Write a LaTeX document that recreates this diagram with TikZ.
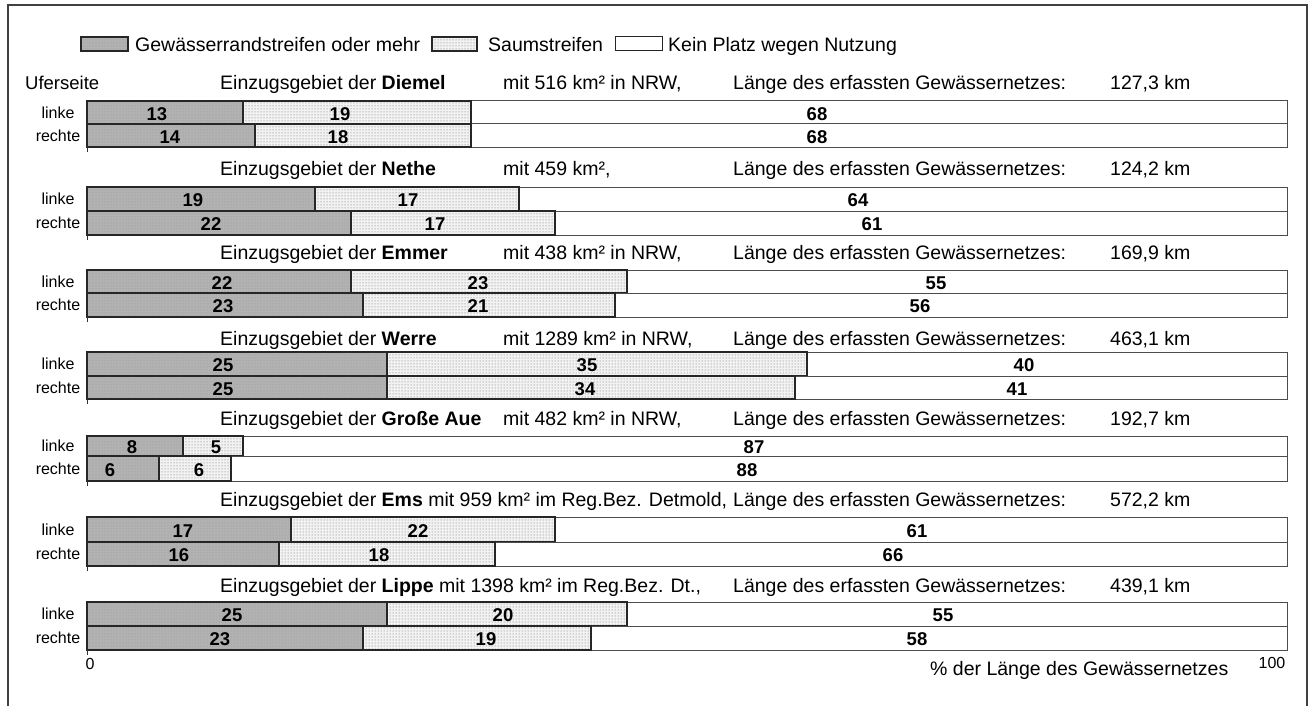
\documentclass[tikz,border=0pt]{standalone}
\usepackage{fontspec}
\setmainfont{Liberation Sans}
\usetikzlibrary{patterns}
\begin{document}
\begin{tikzpicture}[x=1pt,y=-1pt,
  randseg/.style={preaction={fill=black!30},preaction={pattern=dots,pattern color=black!42},draw=black!85,line width=1.1pt},
  saumseg/.style={preaction={fill=black!5},preaction={pattern=dots,pattern color=black!60},draw=black!85,line width=1.1pt},
  freeseg/.style={fill=white,draw=black!70,line width=1pt},
  num/.style={inner sep=0pt,font=\fontsize{18.5}{20}\selectfont\bfseries},
  title/.style={anchor=base west,inner sep=0pt,font=\fontsize{19.5}{22}\selectfont},
  side/.style={anchor=base,inner sep=0pt,font=\fontsize{16}{18}\selectfont},
  frame/.style={draw=black!75,line width=1.3pt}]
\useasboundingbox (0,0) rectangle (1311,706);
% outer frame
\draw[frame] (8,720) -- (8,5) -- (1307,5) -- (1307,720);
% legend
\draw[randseg] (81,37) rectangle (128,51);
\node[title] (lg1) at (135,52) {Gewässerrandstreifen oder mehr};
\draw[saumseg] (432,37) rectangle (477,51);
\node[title] (lg2) at (488,52) {Saumstreifen};
\draw[freeseg,draw=black!85] (615,37) rectangle (662,51);
\node[title] (lg3) at (668,52) {Kein Platz wegen Nutzung};
% header
\node[title,font=\fontsize{18.5}{22}\selectfont] (ufer) at (25,89.5) {Uferseite};
% titles
\foreach \nm/\ty/\riv in {d/83/Diemel,n/168/Nethe,e/252/Emmer,w/338/Werre,g/418/Große Aue}
{
  \node[title] (\nm-t1) at (220,\ty+7) {Einzugsgebiet der \textbf{\riv}};
}
\node[title] (d-t2) at (503,90) {mit 516 km² in NRW,};
\node[title] (n-t2) at (503,175) {mit 459 km²,};
\node[title] (e-t2) at (503,259) {mit 438 km² in NRW,};
\node[title] (w-t2) at (503,345) {mit 1289 km² in NRW,};
\node[title] (g-t2) at (503,425) {mit 482 km² in NRW,};
\node[title] (s-t1) at (220,506) {Einzugsgebiet der \textbf{Ems} mit 959 km² im Reg.Bez. Detmold,};
\node[title] (l-t1) at (220,592) {Einzugsgebiet der \textbf{Lippe} mit 1398 km² im Reg.Bez. Dt.,};
\node[title] (d-t4) at (1110,90) {127,3 km};
\node[title] (n-t4) at (1110,175) {124,2 km};
\node[title] (e-t4) at (1110,259) {169,9 km};
\node[title] (w-t4) at (1110,345) {463,1 km};
\node[title] (g-t4) at (1110,425) {192,7 km};
\node[title] (s-t4) at (1110,506) {572,2 km};
\node[title] (l-t4) at (1110,592) {439,1 km};
\foreach \nm/\ty in {d/83,n/168,e/252,w/338,g/418,s/499,l/585}
{
  \node[title] (\nm-t3) at (733,\ty+7) {Länge des erfassten Gewässernetzes:};
}
% bars
\foreach \nm/\ya/\yb/\va/\vb/\vc/\la/\lb/\lc in {
 dl/101/124/13/19/68/157/340/817,
 dr/124/147/14/18/68/170/338/817,
 nl/187/211/19/17/64/193/408/858,
 nr/211/235/22/17/61/211/435/872,
 el/270/293/22/23/55/222/478/936,
 er/293/317/23/21/56/223/478/920,
 wl/352/376/25/35/40/223/587/1024,
 wr/376/399/25/34/41/223/585/1017,
 gl/436/456/8/5/87/132/216/754,
 gr/456/481/6/6/88/110/199/747,
 sl/517/542/17/22/61/183/418/917,
 sr/542/566/16/18/66/179/379/893,
 ll/602/626/25/20/55/232/503/943,
 lr/626/650/23/19/58/220/486/917}
{
  \pgfmathsetmacro\xa{87+12*\va}
  \pgfmathsetmacro\xb{\xa+12*\vb}
  \pgfmathsetmacro\ym{(\ya+\yb)/2+1.5}
  \draw[freeseg] (\xb,\ya) rectangle (1287,\yb);
  \draw[randseg] (87,\ya) rectangle (\xa,\yb);
  \draw[saumseg] (\xa,\ya) rectangle (\xb,\yb);
  \node[num] (\nm-a) at (\la,\ym) {\va};
  \node[num] (\nm-b) at (\lb,\ym) {\vb};
  \node[num] (\nm-c) at (\lc,\ym) {\vc};
}
% side labels and ticks
\foreach \nm/\ya/\yb/\yc in {d/101/124/147,n/187/211/235,e/270/293/317,w/352/376/399,g/436/456/481,s/517/542/566,l/602/626/650}
{
  \node[side] (\nm-linke) at (58,{(\ya+\yb)/2+5.5}) {linke};
  \node[side] (\nm-rechte) at (58,{(\yb+\yc)/2+5.5}) {rechte};
  \draw[black!80,line width=0.8pt] (87,\yc) -- (87,\yc+5);
}
% axis labels
\node[side] (zero) at (90,669) {0};
\node[side] (hundred) at (1272,668) {100};
\node[title] (axlab) at (930,675) {\% der Länge des Gewässernetzes};
\end{tikzpicture}
\end{document}
